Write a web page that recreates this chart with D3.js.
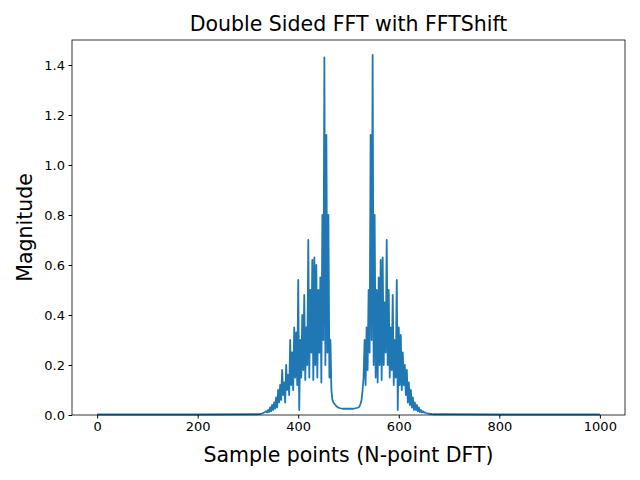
<!DOCTYPE html>
<html><head><meta charset="utf-8">
<script src="https://cdn.jsdelivr.net/npm/d3@7"></script>
<style>body{margin:0;background:#fff}svg{font-family:"DejaVu Sans",sans-serif}</style>
</head><body><svg id="c" width="640" height="480"></svg>
<script>
const sampleIdx = [0,100,200,300,310,320,322,324,326,328,330,332,334,336,338,340,342,344,346,348,350,352,354,356,358,360,362,364,366,368,370,372,374,376,378,380,382,384,386,388,390,392,394,396,398,400,402,404,406,408,410,412,414,416,418,420,422,424,426,428,430,432,434,436,438,440,442,444,446,448,450,452,454,456,458,460,462,464,466,468,470,472,474,476,478,480,482,484,486,488,490,492,494,496,498,
500,502,504,506,508,510,512,514,516,518,520,522,524,526,528,530,532,534,536,538,540,542,544,546,548,550,552,554,556,558,560,562,564,566,568,570,572,574,576,578,580,582,584,586,588,590,592,594,596,598,600,602,604,606,608,610,612,614,616,618,620,622,624,626,628,630,632,634,636,638,640,642,644,646,648,650,652,654,656,658,660,662,664,666,668,670,680,700,800,900,1000];
const magnitude = [0.002,0.002,0.002,0.003,0.003,0.003,0.004,0.004,0.005,0.006,0.008,0.01,0.012,0.015,0.01,0.02,0.012,0.03,0.015,0.04,0.02,0.05,0.025,0.07,0.03,0.1,0.05,0.12,0.06,0.18,0.08,0.13,0.05,0.2,0.1,0.16,0.08,0.3,0.12,0.25,0.1,0.35,0.15,0.33,0.12,0.54,0.02,0.3,0.15,0.4,0.18,0.48,0.14,0.35,0.2,0.7,0.15,0.5,0.25,0.62,0.14,0.63,0.2,0.6,0.15,0.5,0.25,0.55,0.13,0.8,0.3,1.43,0.2,1.12,0.25,0.8,0.15,0.3,0.1,0.06,0.05,0.045,0.04,0.035,0.032,0.03,0.028,0.027,0.026,0.025,0.025,0.025,0.025,0.025,0.025,
0.025,0.025,0.025,0.025,0.025,0.025,0.026,0.027,0.028,0.029,0.03,0.035,0.045,0.06,0.1,0.15,0.3,0.12,0.35,0.18,0.5,0.25,1.12,0.3,1.44,0.2,0.8,0.15,0.5,0.13,0.55,0.2,0.62,0.14,0.63,0.2,0.45,0.25,0.7,0.2,0.5,0.15,0.35,0.18,0.48,0.12,0.3,0.15,0.54,0.02,0.35,0.12,0.32,0.1,0.25,0.12,0.2,0.08,0.18,0.05,0.13,0.04,0.1,0.03,0.07,0.02,0.05,0.02,0.04,0.015,0.03,0.012,0.02,0.01,0.015,0.01,0.01,0.008,0.007,0.006,0.005,0.005,0.004,0.004,0.003,0.003,0.003,0.003,0.002,0.002,0.002];
const xTicks = [0,200,400,600,800,1000];
const yTicks = [0,0.2,0.4,0.6,0.8,1.0,1.2,1.4];

const svg = d3.select("#c");
const L=72,R=625,T=40,B=415;
const x = d3.scaleLinear().domain([-50,1050]).range([L,R]);
const y = d3.scaleLinear().domain([0,1.5]).range([B,T]);
const data = sampleIdx.map((d,i)=>[d,magnitude[i]]);
svg.append("path").datum(data).attr("fill","none").attr("stroke","#1f77b4").attr("stroke-width",1.8)
  .attr("stroke-linejoin","round")
  .attr("d",d3.line().x(d=>x(d[0])).y(d=>y(d[1])));
const xa = svg.append("g").attr("transform",`translate(0,${B})`).call(d3.axisBottom(x).tickValues(xTicks).tickFormat(d3.format("d")).tickSize(3.5).tickPadding(3.5));
const ya = svg.append("g").attr("transform",`translate(${L},0)`).call(d3.axisLeft(y).tickValues(yTicks).tickFormat(d3.format(".1f")).tickSize(3.5).tickPadding(3.5));
[xa,ya].forEach(a=>{a.selectAll("text").attr("font-size",13).attr("fill","#000").attr("font-family","DejaVu Sans");a.select(".domain").remove();a.selectAll("line").attr("stroke","#000")});
svg.append("rect").attr("x",L).attr("y",T).attr("width",R-L).attr("height",B-T).attr("fill","none").attr("stroke","#000").attr("stroke-width",0.8);
svg.append("text").attr("x",(L+R)/2).attr("y",31).attr("text-anchor","middle").attr("font-size",20.5).text("Double Sided FFT with FFTShift");
svg.append("text").attr("x",(L+R)/2).attr("y",462).attr("text-anchor","middle").attr("font-size",20.5).text("Sample points (N-point DFT)");
svg.append("text").attr("transform",`translate(32,${(T+B)/2}) rotate(-90)`).attr("text-anchor","middle").attr("font-size",20.5).text("Magnitude");
</script></body></html>
